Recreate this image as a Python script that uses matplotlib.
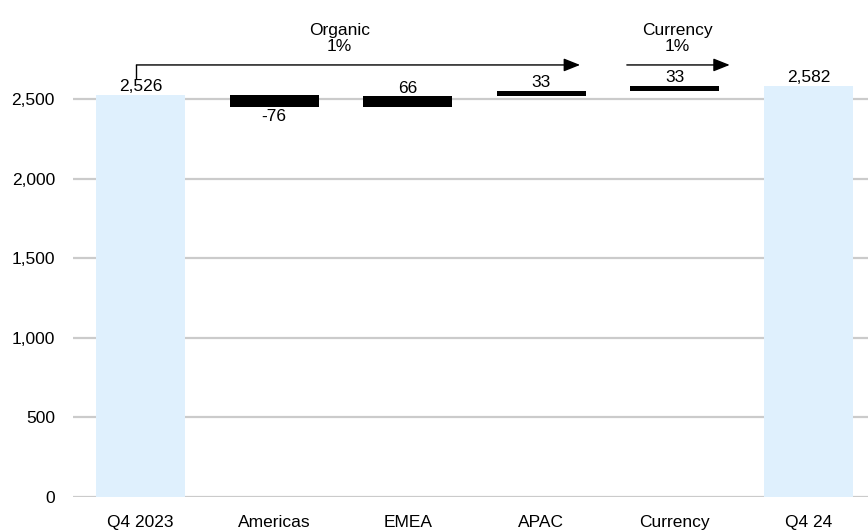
import matplotlib
matplotlib.use("Agg")
import matplotlib.pyplot as plt
import numpy as np

plt.rcParams["font.family"] = ["Liberation Sans", "DejaVu Sans"]

categories = ["Q4 2023", "Americas", "EMEA", "APAC", "Currency", "Q4 24"]
start_value = 2526
changes = [-76, 66, 33, 33]
end_value = 2582
value_labels = ["2,526", "-76", "66", "33", "33", "2,582"]
yticks = [0, 500, 1000, 1500, 2000, 2500]
ytick_labels = ["0", "500", "1,000", "1,500", "2,000", "2,500"]
organic_label = "Organic\n1%"
currency_label = "Currency\n1%"

total_color = "#DFF0FD"
delta_color = "#000000"
grid_color = "#CBCBCB"
fs = 12.5

fig = plt.figure(figsize=(8.68, 5.32), dpi=100)
ax = fig.add_axes([73 / 868, 35 / 532, 1 - 73 / 868, 1 - 35 / 532])

x = np.arange(len(categories))
width = 0.667

# running totals for the floating bars
levels = np.concatenate([[start_value], start_value + np.cumsum(changes)])
bottoms = [0] + [min(levels[i], levels[i + 1]) for i in range(len(changes))] + [0]
heights = [start_value] + [abs(c) for c in changes] + [end_value]
colors = [total_color] + [delta_color] * len(changes) + [total_color]

for y in yticks:
    ax.axhline(y, color=grid_color, lw=1.6, zorder=0)

ax.bar(x, heights, bottom=bottoms, width=width, color=colors, zorder=2)

# value labels: above bars, below for negative changes
signed = [start_value] + changes + [end_value]
for i, (b, h, v, lab) in enumerate(zip(bottoms, heights, signed, value_labels)):
    if v < 0:
        ax.text(x[i], b - 10, lab, ha="center", va="top", fontsize=fs)
    else:
        ax.text(x[i], b + h + 6, lab, ha="center", va="bottom", fontsize=fs)

ax.set_xlim(-0.505, 5.445)
ax.set_ylim(0, 3122)
ax.set_yticks(yticks)
ax.set_yticklabels(ytick_labels, fontsize=fs)
ax.set_xticks(x)
ax.set_xticklabels(categories, fontsize=fs)
ax.tick_params(axis="both", length=0)
ax.tick_params(axis="y", pad=13)
ax.tick_params(axis="x", pad=13)
for s in ax.spines.values():
    s.set_visible(False)

# organic and currency brackets
arrow_y = 2714
ax.plot([x[0] - 0.03, x[0] - 0.03], [2632, arrow_y], color="black", lw=1, zorder=3)
ax.annotate("", xy=(3.29, arrow_y), xytext=(x[0] - 0.03, arrow_y),
            arrowprops=dict(arrowstyle="-|>,head_length=1.0,head_width=0.4",
                            color="black", lw=1, shrinkA=0, shrinkB=0))
ax.annotate("", xy=(4.41, arrow_y), xytext=(3.64, arrow_y),
            arrowprops=dict(arrowstyle="-|>,head_length=1.0,head_width=0.4",
                            color="black", lw=1, shrinkA=0, shrinkB=0))
ax.text(1.49, 2880, organic_label, ha="center", va="center", fontsize=fs,
        linespacing=1.05)
ax.text(4.02, 2880, currency_label, ha="center", va="center", fontsize=fs,
        linespacing=1.05)

fig.savefig("out.png", dpi=100)
